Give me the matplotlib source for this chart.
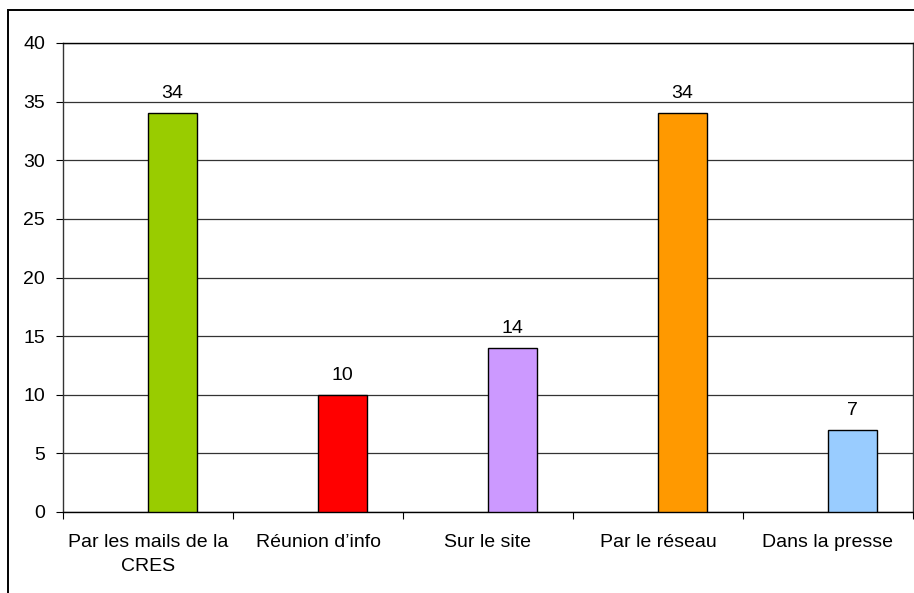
import matplotlib
matplotlib.use("Agg")
import matplotlib.pyplot as plt
from matplotlib.patches import Rectangle

categories = ["Par les mails de la\nCRES", "Réunion d\u2019info", "Sur le site", "Par le réseau", "Dans la presse"]
values = [34, 10, 14, 34, 7]
colors = ["#99CC00", "#FF0000", "#CC99FF", "#FF9900", "#99CCFF"]
yticks = [0, 5, 10, 15, 20, 25, 30, 35, 40]

FS = 14
plt.rcParams['font.family'] = ['Liberation Sans', 'DejaVu Sans']
fig = plt.figure(figsize=(9.14, 5.93), dpi=100)
fig.patches.append(Rectangle((8/914, -0.05), 1.1, 1 - 10/593 + 0.05, transform=fig.transFigure,
                             fill=False, edgecolor='black', linewidth=1.4))
ax = fig.add_axes([63/914, 1 - 512/593, 850/914, 469/593])

x = list(range(len(values)))
ax.bar(x, values, width=0.29, align='edge', color=colors, edgecolor='black', linewidth=1.0, zorder=3)
for xi, v in zip(x, values):
    ax.annotate(str(v), (xi + 0.145, v), xytext=(0, 8), textcoords='offset points',
                ha='center', va='bottom', fontsize=FS)

ax.set_xlim(-0.5, len(values) - 0.5)
ax.set_ylim(0, 40)
ax.set_yticks(yticks)
ax.set_yticklabels([str(t) for t in yticks], fontsize=FS)
ax.yaxis.grid(True, color='#333333', linewidth=0.9, zorder=0)
ax.set_axisbelow(True)

ax.set_xticks([i - 0.5 for i in range(len(values) + 1)], minor=False)
ax.set_xticklabels([])
ax.set_xticks(x, minor=True)
ax.set_xticklabels(categories, minor=True, fontsize=FS, linespacing=1.55)
ax.tick_params(axis='x', which='minor', length=0, pad=16)
ax.tick_params(axis='x', which='major', length=5, direction='out', color='black')
ax.tick_params(axis='y', length=5, direction='out', pad=8)

for s in ax.spines.values():
    s.set_color('black')
    s.set_linewidth(1.0)
ax.spines['left'].set_color('#333333')
ax.spines['right'].set_color('#333333')

fig.savefig("out.png", dpi=100)
